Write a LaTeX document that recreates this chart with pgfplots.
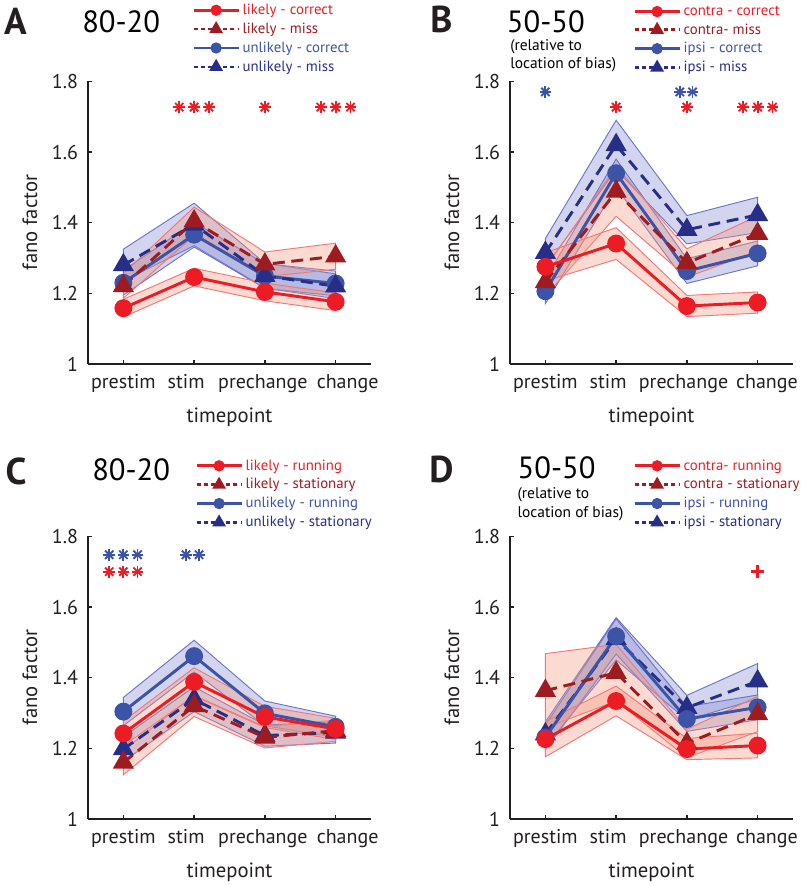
\documentclass[border=0pt]{standalone}
\usepackage{pgfplots}
\pgfplotsset{compat=1.18}
\usepackage{fontspec}
\setmainfont{PT Sans}
\definecolor{cred}{RGB}{237,28,36}
\definecolor{cdred}{RGB}{158,27,32}
\definecolor{cblue}{RGB}{59,84,167}
\definecolor{cnavy}{RGB}{39,46,135}
\definecolor{rfill}{RGB}{244,150,125}
\definecolor{redge}{RGB}{240,120,120}
\definecolor{bfill}{RGB}{130,135,205}
\definecolor{bedge}{RGB}{110,115,200}
\definecolor{axc}{RGB}{35,31,32}
\pgfplotsset{
  fano/.style={
    scale only axis, width=212.25pt, height=212pt,
    xmin=0.5, xmax=4.5, ymin=1, ymax=1.8,
    xtick={1,2,3,4},
    ytick={1,1.2,1.4,1.6,1.8},
    axis lines*=left, axis line style={line width=1.1pt, color=axc},
    tick style={line width=1pt,color=axc}, major tick length=3pt, tick align=inside,
    ticklabel style={font=\fontsize{15}{18}\selectfont, color=axc},
    xticklabel style={yshift=-4pt},
    yticklabel style={xshift=-4pt},
    /pgf/number format/assume math mode=true,
    xlabel={timepoint}, ylabel={fano factor},
    label style={font=\fontsize{15.5}{18}\selectfont, color=axc},
    xlabel style={at={(axis description cs:0.5,-0.188)}, anchor=center},
    ylabel style={at={(axis description cs:-0.205,0.5)}, anchor=center},
    clip=false,
    legend cell align=left,
    legend style={draw=none, fill=none, font=\fontsize{11.1}{13}\selectfont, anchor=north west, row sep=0.8pt, inner sep=0pt},
    legend image code/.code={\draw[mark repeat=2, mark phase=2, #1] plot coordinates {(0pt,0pt)(16.9pt,0pt)(33.75pt,0pt)};},
  },
  rband/.style={fill=rfill, fill opacity=0.35, draw=redge, line width=0.7pt, forget plot},
  bband/.style={fill=bfill, fill opacity=0.35, draw=bedge, line width=0.7pt, forget plot},
  sred/.style={color=cred, line width=2.2pt, mark=*, mark size=5.6pt, mark options={solid}, forget plot},
  sdred/.style={color=cdred, line width=2.2pt, dash pattern=on 9pt off 5pt, mark=triangle*, mark size=7pt, mark options={solid}, forget plot},
  sblue/.style={color=cblue, line width=2.2pt, mark=*, mark size=5.6pt, mark options={solid}, forget plot},
  snavy/.style={color=cnavy, line width=2.2pt, dash pattern=on 9pt off 5pt, mark=triangle*, mark size=7pt, mark options={solid}, forget plot},
  lred/.style={color=cred, line width=2pt, mark=*, mark size=3.2pt, mark options={solid}},
  ldred/.style={color=cdred, line width=2pt, dash pattern=on 3pt off 2.5pt, mark=triangle*, mark size=4pt, mark options={solid}},
  lblue/.style={color=cblue, line width=2pt, mark=*, mark size=3.2pt, mark options={solid}},
  lnavy/.style={color=cnavy, line width=2pt, dash pattern=on 3pt off 2.5pt, mark=triangle*, mark size=4pt, mark options={solid}},
  starA/.style={only marks, mark=+, mark size=4.4pt, line width=1.4pt, forget plot},
  starB/.style={only marks, mark=x, mark size=4.4pt, line width=1.4pt, forget plot},
}
\begin{document}
\begin{tikzpicture}
% ---------------- A ----------------
\begin{axis}[fano, at={(66pt,-273pt)}, anchor=south west, legend style={at={(axis description cs:0.3675,1.284)}},
  xticklabels={prestim,{\kern-12pt stim},{\kern-3pt prechange},{change\kern-18pt}}]
\addlegendimage{lred}\addlegendentry{\textcolor{cred}{likely - correct}}
\addlegendimage{ldred}\addlegendentry{\textcolor{cdred}{likely - miss}}
\addlegendimage{lblue}\addlegendentry{\textcolor{cblue}{unlikely - correct}}
\addlegendimage{lnavy}\addlegendentry{\textcolor{cnavy}{unlikely - miss}}
\addplot[bband] coordinates {(1,1.325)(2,1.455)(3,1.285)(4,1.255)(4,1.185)(3,1.215)(2,1.335)(1,1.235)} -- cycle;
\addplot[bband] coordinates {(1,1.265)(2,1.401)(3,1.284)(4,1.263)(4,1.193)(3,1.214)(2,1.331)(1,1.195)} -- cycle;
\addplot[rband] coordinates {(1,1.256)(2,1.444)(3,1.317)(4,1.342)(4,1.268)(3,1.247)(2,1.364)(1,1.186)} -- cycle;
\addplot[rband] coordinates {(1,1.183)(2,1.271)(3,1.229)(4,1.201)(4,1.151)(3,1.179)(2,1.221)(1,1.133)} -- cycle;
\addplot[sblue] coordinates {(1,1.23)(2,1.366)(3,1.249)(4,1.228)};
\addplot[snavy] coordinates {(1,1.28)(2,1.395)(3,1.25)(4,1.22)};
\addplot[sdred] coordinates {(1,1.221)(2,1.404)(3,1.282)(4,1.305)};
\addplot[sred] coordinates {(1,1.158)(2,1.246)(3,1.204)(4,1.176)};
\addplot[starA, cred] coordinates {(1.79,1.727)(2,1.727)(2.21,1.727)(3,1.727)(3.79,1.727)(4,1.727)(4.21,1.727)};
\addplot[starB, cred] coordinates {(1.79,1.727)(2,1.727)(2.21,1.727)(3,1.727)(3.79,1.727)(4,1.727)(4.21,1.727)};
\end{axis}
% ---------------- B ----------------
\begin{axis}[fano, at={(382.5pt,-273pt)}, anchor=south west, legend style={at={(axis description cs:0.4346,1.277)}},
  xticklabels={prestim,{\kern-12pt stim},{\kern-5pt prechange},{change\kern-14pt}}]
\addlegendimage{lred}\addlegendentry{\textcolor{cred}{contra - correct}}
\addlegendimage{ldred}\addlegendentry{\textcolor{cdred}{contra- miss}}
\addlegendimage{lblue}\addlegendentry{\textcolor{cblue}{ipsi - correct}}
\addlegendimage{lnavy}\addlegendentry{\textcolor{cnavy}{ipsi - miss}}
\addplot[bband] coordinates {(1,1.355)(2,1.69)(3,1.42)(4,1.472)(4,1.372)(3,1.34)(2,1.55)(1,1.275)} -- cycle;
\addplot[bband] coordinates {(1,1.241)(2,1.58)(3,1.298)(4,1.348)(4,1.278)(3,1.228)(2,1.50)(1,1.171)} -- cycle;
\addplot[rband] coordinates {(1,1.272)(2,1.558)(3,1.326)(4,1.419)(4,1.319)(3,1.246)(2,1.418)(1,1.192)} -- cycle;
\addplot[rband] coordinates {(1,1.315)(2,1.386)(3,1.194)(4,1.204)(4,1.144)(3,1.134)(2,1.296)(1,1.235)} -- cycle;
\addplot[sblue] coordinates {(1,1.206)(2,1.54)(3,1.263)(4,1.313)};
\addplot[snavy] coordinates {(1,1.315)(2,1.62)(3,1.38)(4,1.422)};
\addplot[sdred] coordinates {(1,1.232)(2,1.488)(3,1.286)(4,1.369)};
\addplot[sred] coordinates {(1,1.275)(2,1.341)(3,1.164)(4,1.174)};
\addplot[starA, cblue] coordinates {(1,1.77)(2.9,1.77)(3.08,1.77)};
\addplot[starB, cblue] coordinates {(1,1.77)(2.9,1.77)(3.08,1.77)};
\addplot[starA, cred] coordinates {(2,1.727)(3,1.727)(3.79,1.727)(4,1.727)(4.21,1.727)};
\addplot[starB, cred] coordinates {(2,1.727)(3,1.727)(3.79,1.727)(4,1.727)(4.21,1.727)};
\end{axis}
% ---------------- C ----------------
\begin{axis}[fano, at={(66pt,-614.25pt)}, anchor=south west, legend style={at={(axis description cs:0.378,1.282)}},
  xticklabels={prestim,{\kern-12pt stim},{\kern-3pt prechange},{change\kern-18pt}}]
\addlegendimage{lred}\addlegendentry{\textcolor{cred}{likely - running}}
\addlegendimage{ldred}\addlegendentry{\textcolor{cdred}{likely - stationary}}
\addlegendimage{lblue}\addlegendentry{\textcolor{cblue}{unlikely - running}}
\addlegendimage{lnavy}\addlegendentry{\textcolor{cnavy}{unlikely - stationary}}
\addplot[bband] coordinates {(1,1.344)(2,1.506)(3,1.334)(4,1.291)(4,1.231)(3,1.264)(2,1.416)(1,1.264)} -- cycle;
\addplot[bband] coordinates {(1,1.233)(2,1.374)(3,1.266)(4,1.275)(4,1.215)(3,1.206)(2,1.304)(1,1.163)} -- cycle;
\addplot[rband] coordinates {(1,1.195)(2,1.35)(3,1.261)(4,1.28)(4,1.22)(3,1.201)(2,1.29)(1,1.125)} -- cycle;
\addplot[rband] coordinates {(1,1.277)(2,1.428)(3,1.319)(4,1.285)(4,1.225)(3,1.259)(2,1.348)(1,1.207)} -- cycle;
\addplot[snavy] coordinates {(1,1.198)(2,1.339)(3,1.236)(4,1.245)};
\addplot[sdred] coordinates {(1,1.16)(2,1.32)(3,1.231)(4,1.25)};
\addplot[sblue] coordinates {(1,1.304)(2,1.461)(3,1.299)(4,1.261)};
\addplot[sred] coordinates {(1,1.242)(2,1.388)(3,1.289)(4,1.255)};
\addplot[starA, cblue] coordinates {(0.8,1.748)(1,1.748)(1.2,1.748)(1.885,1.748)(2.07,1.748)};
\addplot[starB, cblue] coordinates {(0.8,1.748)(1,1.748)(1.2,1.748)(1.885,1.748)(2.07,1.748)};
\addplot[starA, cred] coordinates {(0.8,1.70)(1,1.70)(1.2,1.70)};
\addplot[starB, cred] coordinates {(0.8,1.70)(1,1.70)(1.2,1.70)};
\end{axis}
% ---------------- D ----------------
\begin{axis}[fano, at={(382.5pt,-614.25pt)}, anchor=south west, legend style={at={(axis description cs:0.4346,1.282)}},
  xticklabels={prestim,{\kern-12pt stim},{\kern-5pt prechange},{change\kern-14pt}}]
\addlegendimage{lred}\addlegendentry{\textcolor{cred}{contra- running}}
\addlegendimage{ldred}\addlegendentry{\textcolor{cdred}{contra - stationary}}
\addlegendimage{lblue}\addlegendentry{\textcolor{cblue}{ipsi - running}}
\addlegendimage{lnavy}\addlegendentry{\textcolor{cnavy}{ipsi - stationary}}
\addplot[bband] coordinates {(1,1.275)(2,1.57)(3,1.35)(4,1.44)(4,1.34)(3,1.28)(2,1.45)(1,1.205)} -- cycle;
\addplot[bband] coordinates {(1,1.266)(2,1.567)(3,1.318)(4,1.351)(4,1.281)(3,1.248)(2,1.467)(1,1.196)} -- cycle;
\addplot[rband] coordinates {(1,1.468)(2,1.494)(3,1.254)(4,1.347)(4,1.247)(3,1.174)(2,1.334)(1,1.258)} -- cycle;
\addplot[rband] coordinates {(1,1.276)(2,1.376)(3,1.228)(4,1.243)(4,1.173)(3,1.168)(2,1.292)(1,1.176)} -- cycle;
\addplot[snavy] coordinates {(1,1.24)(2,1.51)(3,1.315)(4,1.39)};
\addplot[sblue] coordinates {(1,1.231)(2,1.517)(3,1.283)(4,1.316)};
\addplot[sdred] coordinates {(1,1.363)(2,1.414)(3,1.214)(4,1.297)};
\addplot[sred] coordinates {(1,1.226)(2,1.334)(3,1.198)(4,1.208)};
\addplot[only marks, mark=+, mark size=5pt, line width=1.8pt, cred, forget plot] coordinates {(4,1.7)};
\end{axis}
% ---------------- panel texts ----------------
\node[anchor=base, font=\bfseries\fontsize{28}{30}\selectfont, color=axc] at (11.5pt,-25.5pt) {A};
\node[anchor=base west, inner sep=0pt, font=\fontsize{23}{26}\selectfont] at (61.5pt,-24pt) {80-20};
\node[anchor=base, font=\bfseries\fontsize{28}{30}\selectfont, color=axc] at (331pt,-24pt) {B};
\node[anchor=base west, inner sep=0pt, font=\fontsize{23}{26}\selectfont] at (380pt,-24pt) {50-50};
\node[anchor=base west, inner sep=0pt, font=\fontsize{11.6}{13}\selectfont] at (382.5pt,-37.8pt) {(relative to};
\node[anchor=base west, inner sep=0pt, font=\fontsize{11.6}{13}\selectfont] at (382.5pt,-51pt) {location of bias)};
\node[anchor=base, font=\bfseries\fontsize{28}{30}\selectfont, color=axc] at (12pt,-363.5pt) {C};
\node[anchor=base west, inner sep=0pt, font=\fontsize{23}{26}\selectfont] at (69pt,-360pt) {80-20};
\node[anchor=base, font=\bfseries\fontsize{28}{30}\selectfont, color=axc] at (331pt,-362pt) {D};
\node[anchor=base west, inner sep=0pt, font=\fontsize{23}{26}\selectfont] at (388pt,-359pt) {50-50};
\node[anchor=base west, inner sep=0pt, font=\fontsize{11.6}{13}\selectfont] at (388pt,-374pt) {(relative to};
\node[anchor=base west, inner sep=0pt, font=\fontsize{11.6}{13}\selectfont] at (388pt,-388pt) {location of bias)};
\pgfresetboundingbox
\useasboundingbox (0pt,0pt) rectangle (600pt,-663.75pt);
\end{tikzpicture}
\end{document}
